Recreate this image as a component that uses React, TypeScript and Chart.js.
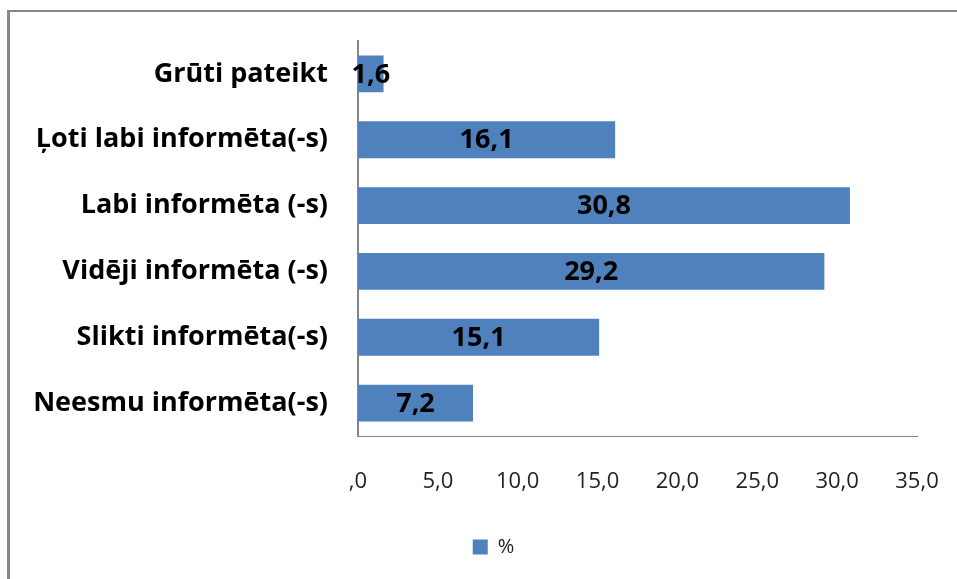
import React, { useEffect, useRef } from "react";
import { Chart, registerables } from "chart.js";

Chart.register(...registerables);

const categories = [
  "Grūti pateikt",
  "Ļoti labi informēta(-s)",
  "Labi informēta (-s)",
  "Vidēji informēta (-s)",
  "Slikti informēta(-s)",
  "Neesmu informēta(-s)",
];
const values = [1.6, 16.1, 30.8, 29.2, 15.1, 7.2];
const xTickLabels = [",0", "5,0", "10,0", "15,0", "20,0", "25,0", "30,0", "35,0"];
const seriesName = "%";

const FONT = "'Open Sans', Lato, sans-serif";
const LEGEND_SHIFT = 35;

const barLabels = {
  id: "barLabels",
  afterDatasetsDraw(chart: any) {
    const ctx = chart.ctx;
    const meta = chart.getDatasetMeta(0);
    ctx.save();
    ctx.font = `bold 27px ${FONT}`;
    ctx.fillStyle = "#000";
    ctx.textAlign = "center";
    ctx.textBaseline = "middle";
    meta.data.forEach((el: any, i: number) => {
      const cx = (el.x + el.base) / 2;
      const txt = values[i].toFixed(1).replace(".", ",");
      ctx.fillText(txt, cx, el.y + 1);
    });
    ctx.restore();
  },
};

const legendShift = {
  id: "legendShift",
  afterLayout(chart: any) {
    if (chart.legend) {
      chart.legend.left += LEGEND_SHIFT;
      chart.legend.right += LEGEND_SHIFT;
    }
  },
};

export default function App() {
  const ref = useRef<HTMLCanvasElement>(null);
  useEffect(() => {
    if (!ref.current) return;
    const chart = new Chart(ref.current, {
      type: "bar",
      data: {
        labels: categories,
        datasets: [
          {
            label: seriesName,
            data: values,
            backgroundColor: "#4F81BD",
            barPercentage: 0.56,
            categoryPercentage: 1,
          },
        ],
      },
      options: {
        indexAxis: "y",
        responsive: false,
        animation: false,
        layout: { padding: { top: 41, right: 40, left: 0, bottom: 12 } },
        plugins: {
          tooltip: { enabled: false },
          legend: {
            position: "bottom",
            labels: {
              boxWidth: 15,
              boxHeight: 15,
              padding: 10,
              color: "#222",
              font: { family: FONT, size: 20 },
            },
          },
        },
        scales: {
          y: {
            grid: { display: false, drawTicks: false },
            border: { color: "#868686", width: 2 },
            ticks: {
              color: "#000",
              padding: 30,
              font: { family: FONT, size: 27, weight: "bold" },
            },
            afterFit: (s: any) => {
              s.width = 358;
              s.paddingTop = 0;
              s.paddingBottom = 0;
            },
          },
          x: {
            min: 0,
            max: 35,
            grid: { display: false, drawTicks: false },
            border: { color: "#868686", width: 1 },
            ticks: {
              stepSize: 5,
              color: "#222",
              padding: 33,
              maxRotation: 0,
              autoSkip: false,
              font: { family: FONT, size: 22 },
              callback: (_v: any, i: number) => xTickLabels[i],
            },
            afterFit: (s: any) => {
              s.height = 91;
              s.paddingLeft = 0;
              s.paddingRight = 0;
            },
          },
        },
      },
      plugins: [barLabels, legendShift],
    });
    return () => chart.destroy();
  }, []);

  return (
    <div style={{ position: "fixed", left: 0, top: 0, width: 957, height: 579, background: "#fff", overflow: "hidden" }}>
      <div
        style={{
          position: "absolute",
          left: 7,
          top: 10,
          width: 980,
          height: 600,
          borderLeft: "3px solid #878787",
          borderTop: "2px solid #878787",
        }}
      />
      <canvas ref={ref} width={957} height={579} style={{ position: "absolute", left: 0, top: 0 }} />
    </div>
  );
}
